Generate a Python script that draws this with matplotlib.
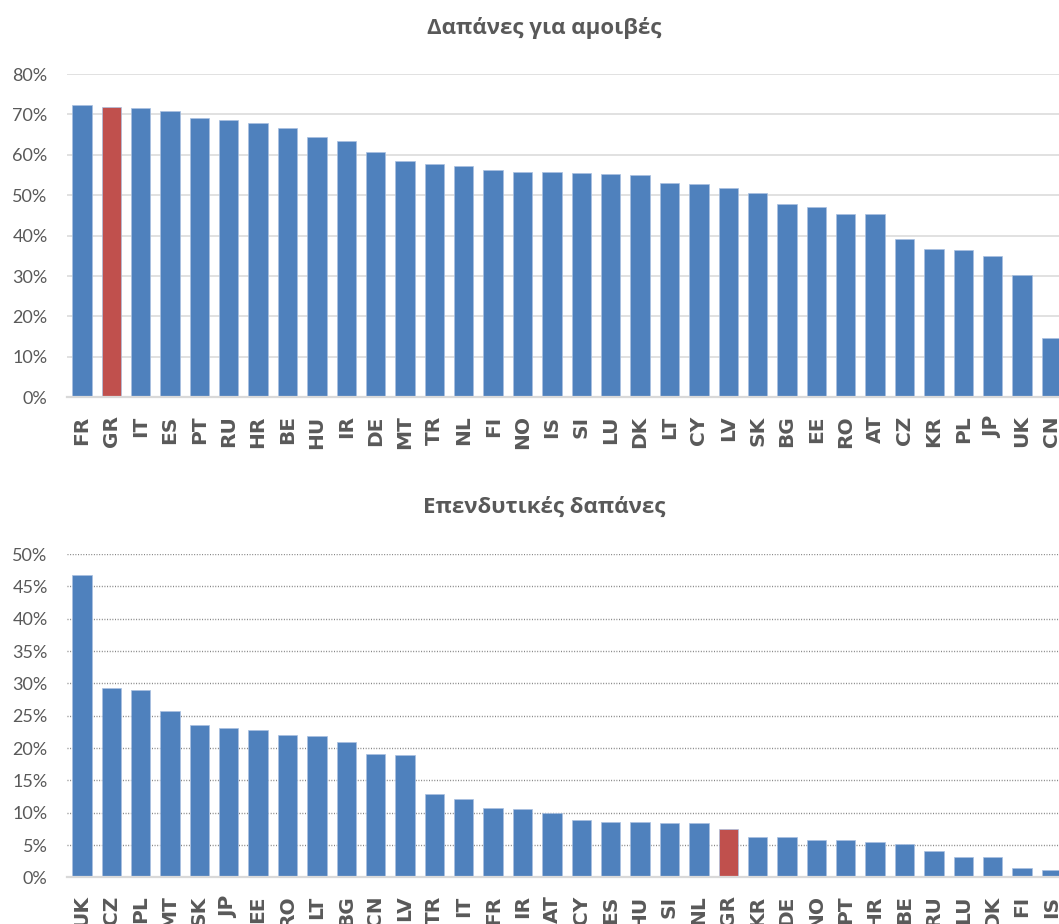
import matplotlib.pyplot as plt
import numpy as np

# Δαπάνες για αμοιβές (% share)
pay_countries = ['FR', 'GR', 'IT', 'ES', 'PT', 'RU', 'HR', 'BE', 'HU', 'IR', 'DE', 'MT',
                 'TR', 'NL', 'FI', 'NO', 'IS', 'SI', 'LU', 'DK', 'LT', 'CY', 'LV', 'SK',
                 'BG', 'EE', 'RO', 'AT', 'CZ', 'KR', 'PL', 'JP', 'UK', 'CN']
pay_values = [72.3, 71.8, 71.5, 70.8, 69.2, 68.6, 68.0, 66.6, 64.3, 63.4, 60.6, 58.4,
              57.7, 57.2, 56.2, 55.8, 55.7, 55.4, 55.3, 55.1, 53.1, 52.8, 51.8, 50.6,
              47.9, 47.2, 45.4, 45.4, 39.2, 36.8, 36.5, 35.0, 30.3, 14.7]

# Επενδυτικές δαπάνες (% share)
inv_countries = ['UK', 'CZ', 'PL', 'MT', 'SK', 'JP', 'EE', 'RO', 'LT', 'BG', 'CN', 'LV',
                 'TR', 'IT', 'FR', 'IR', 'AT', 'CY', 'ES', 'HU', 'SI', 'NL', 'GR', 'KR',
                 'DE', 'NO', 'PT', 'HR', 'BE', 'RU', 'LU', 'DK', 'FI', 'IS']
inv_values = [46.8, 29.3, 29.0, 25.7, 23.6, 23.1, 22.8, 22.0, 21.8, 20.9, 19.0, 18.9,
              12.9, 12.1, 10.7, 10.6, 9.9, 8.9, 8.6, 8.5, 8.4, 8.35, 7.5, 6.3,
              6.2, 5.8, 5.7, 5.5, 5.2, 4.0, 3.2, 3.2, 1.4, 1.2]

highlight = 'GR'
BLUE = '#4F81BD'
RED = '#C0504D'
TXT = '#595959'


def draw(ax, labels, values, ymax, step, solid_grid):
    x = np.arange(len(labels))
    colors = [RED if c == highlight else BLUE for c in labels]
    ax.bar(x, values, width=0.66, color=colors, edgecolor='#A9C0E0',
           linewidth=0.5, zorder=3)
    ax.set_xlim(-0.5, len(labels) - 0.5)
    ax.set_ylim(0, ymax)
    ax.set_yticks(np.arange(0, ymax + 0.01, step))
    ax.yaxis.set_major_formatter(lambda v, p: f'{v:.0f}%')
    ax.set_xticks(x)
    ax.set_xticklabels(labels, rotation=90, fontweight='bold',
                       family='DejaVu Sans', fontsize=14.5, color=TXT)
    for t in ax.get_yticklabels():
        t.set_family('Lato')
        t.set_fontsize(13)
        t.set_color(TXT)
    ax.tick_params(axis='y', length=0, pad=14)
    ax.tick_params(axis='x', length=0, pad=13)
    if solid_grid:
        ax.grid(axis='y', color='#D9D9D9', linewidth=1.1, zorder=0)
    else:
        ax.grid(axis='y', color='#808080', linewidth=1.0,
                linestyle=(0, (0.7, 1.2)), zorder=0)
    for s in ['left', 'right', 'top']:
        ax.spines[s].set_visible(False)
    ax.spines['bottom'].set_color('#D9D9D9')
    ax.spines['bottom'].set_linewidth(1.6)
    ax.spines['bottom'].set_zorder(4)


fig = plt.figure(figsize=(10.59, 9.24), dpi=100)
ax1 = fig.add_axes([0.0634, 0.570, 0.9433, 0.3499])
ax2 = fig.add_axes([0.0634, 0.0505, 0.9433, 0.3499])

draw(ax1, pay_countries, pay_values, 80, 10, True)
draw(ax2, inv_countries, inv_values, 50, 5, False)

title_font = dict(ha='center', va='center', fontsize=16, fontweight='bold',
                  color=TXT, family=['Open Sans', 'DejaVu Sans'])
fig.text(0.5137, 0.9697, 'Δαπάνες για αμοιβές', **title_font)
fig.text(0.5137, 0.4513, 'Επενδυτικές δαπάνες', **title_font)

fig.savefig('out.png', dpi=100)
